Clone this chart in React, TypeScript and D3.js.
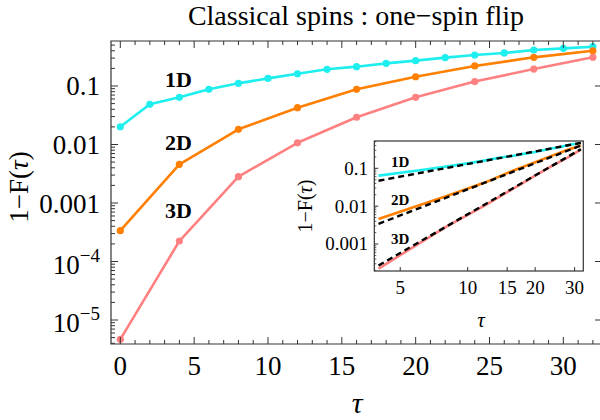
import React from 'react';
import * as d3 from 'd3';

// ---------- data ----------
const tau1D = [0, 2, 4, 6, 8, 10, 12, 14, 16, 18, 20, 22, 24, 26, 28, 30, 32];
const val1D = [0.0201, 0.0487, 0.064, 0.0877, 0.111, 0.135, 0.162, 0.193, 0.214, 0.244, 0.271, 0.305, 0.339, 0.367, 0.412, 0.44, 0.47];
const tau2D = [0, 4, 8, 12, 16, 20, 24, 28, 32];
const val2D = [3.36e-4, 0.00458, 0.0182, 0.0426, 0.0877, 0.144, 0.22, 0.309, 0.40];
const tau3D = [0, 4, 8, 12, 16, 20, 24, 28, 32];
const val3D = [4.68e-6, 2.24e-4, 0.00282, 0.0107, 0.0292, 0.064, 0.119, 0.195, 0.31];

const fitTau = [4, 32];
const fit1D = [0.047, 0.47];
const fit2D = [0.0034, 0.40];
const fit3D = [0.00027, 0.32];

const seriesNames = ['1D', '2D', '3D'];
const seriesColors = ['#1EEEEE', '#FF8000', '#FF8080'];

const xTicksMain = [0, 5, 10, 15, 20, 25, 30];
const yTicksMain = [1e-5, 1e-4, 1e-3, 1e-2, 1e-1];
const yTickLabelsMain = [['10', '−5'], ['10', '−4'], ['0.001', ''], ['0.01', ''], ['0.1', '']];
const insetXTicks = [5, 10, 15, 20, 30];
const insetYTicks = [1e-3, 1e-2, 1e-1];
const insetYTickLabels = ['0.001', '0.01', '0.1'];

const title = 'Classical spins : one−spin flip';

const FONT = "'Liberation Serif', 'Times New Roman', serif";
const FRAME = '#333';

export default function App() {
  // main scales
  const x = d3.scaleLinear().domain([-0.63, 32.55]).range([111, 601]);
  const y = d3.scaleLog().domain([3.89e-6, 0.5877]).range([344, 41]);
  const [L, R] = x.range();
  const [B, T] = y.range();

  // inset scales
  const ix = d3.scaleLog().domain([3.83, 32.8]).range([374.3, 583.3]);
  const iy = d3.scaleLog().domain([1.93e-4, 0.527]).range([271, 141]);
  const [iL, iR] = ix.range();
  const [iB, iT] = iy.range();

  const series = [
    { tau: tau1D, val: val1D, fit: fit1D },
    { tau: tau2D, val: val2D, fit: fit2D },
    { tau: tau3D, val: val3D, fit: fit3D },
  ];

  const mainLine = d3.line<[number, number]>().x(d => x(d[0])).y(d => y(d[1]));
  const insetLine = d3.line<[number, number]>().x(d => ix(d[0])).y(d => iy(d[1]));

  // minor ticks
  const yMinor: number[] = [];
  for (let e = -6; e <= 0; e++) for (let m = 2; m <= 9; m++) {
    const v = m * Math.pow(10, e);
    if (v >= y.domain()[0] && v <= y.domain()[1]) yMinor.push(v);
  }
  const xMinor = d3.range(0, 33, 1).filter(v => v % 5 !== 0);
  const iyMinor: number[] = [];
  for (let e = -4; e <= 0; e++) for (let m = 2; m <= 9; m++) {
    const v = m * Math.pow(10, e);
    if (v >= iy.domain()[0] && v <= iy.domain()[1]) iyMinor.push(v);
  }

  const mainLabelPos = [
    { x: 165, y: 87 },
    { x: 165, y: 150 },
    { x: 165, y: 218 },
  ];
  const insetLabelPos = [
    { x: 391, y: 167 },
    { x: 391, y: 205 },
    { x: 391, y: 244 },
  ];

  return (
    <svg width={600} height={420} style={{ position: 'absolute', left: 0, top: 0, background: '#fff' }} fontFamily={FONT}>
      <rect x={0} y={0} width={600} height={420} fill="#fff" />
      {/* title */}
      <text x={356} y={25} fontSize={28} textAnchor="middle" fill="#000">{title}</text>

      {/* main series */}
      <g>
        {series.map((s, i) => (
          <g key={i}>
            <path d={mainLine(s.tau.map((t, j) => [t, s.val[j]] as [number, number])) || ''} fill="none" stroke={seriesColors[i]} strokeWidth={2.6} strokeLinejoin="round" />
            {s.tau.map((t, j) => (
              <circle key={j} cx={x(t)} cy={y(s.val[j])} r={3.6} fill={seriesColors[i]} />
            ))}
          </g>
        ))}
      </g>

      {/* main frame */}
      <path d={`M${R},${T}H${L}V${B}H${R}`} fill="none" stroke={FRAME} strokeWidth={1.2} />
      {/* bottom & top ticks */}
      {xTicksMain.map(t => (
        <g key={'xt' + t}>
          <line x1={x(t)} x2={x(t)} y1={B} y2={B - 7} stroke={FRAME} strokeWidth={1} />
          <line x1={x(t)} x2={x(t)} y1={T} y2={T + 7} stroke={FRAME} strokeWidth={1} />
          <text x={x(t)} y={375} fontSize={27} textAnchor="middle">{t}</text>
        </g>
      ))}
      {xMinor.map(t => (
        <g key={'xm' + t}>
          <line x1={x(t)} x2={x(t)} y1={B} y2={B - 4} stroke={FRAME} strokeWidth={1} />
          <line x1={x(t)} x2={x(t)} y1={T} y2={T + 4} stroke={FRAME} strokeWidth={1} />
        </g>
      ))}
      {/* left & right ticks */}
      {yTicksMain.map((v, i) => (
        <g key={'yt' + i}>
          <line x1={L} x2={L + 7} y1={y(v)} y2={y(v)} stroke={FRAME} strokeWidth={1} />
          <line x1={R} x2={R - 6} y1={y(v)} y2={y(v)} stroke={FRAME} strokeWidth={1} />
          {yTickLabelsMain[i][1] ? (
            <text x={100} y={y(v) + 12} fontSize={27} textAnchor="end">
              {yTickLabelsMain[i][0]}
              <tspan fontSize={19} dy={-12}>{yTickLabelsMain[i][1]}</tspan>
            </text>
          ) : (
            <text x={100} y={y(v) + 9.5} fontSize={27} textAnchor="end">{yTickLabelsMain[i][0]}</text>
          )}
        </g>
      ))}
      {yMinor.map((v, i) => (
        <line key={'ym' + i} x1={L} x2={L + 4} y1={y(v)} y2={y(v)} stroke={FRAME} strokeWidth={1} />
      ))}

      {/* main labels */}
      {seriesNames.map((n, i) => (
        <text key={n} x={mainLabelPos[i].x} y={mainLabelPos[i].y} fontSize={22} fontWeight="bold">{n}</text>
      ))}

      {/* axis titles */}
      <text transform="translate(28,187) rotate(-90)" fontSize={27} textAnchor="middle">
        1−F(<tspan fontStyle="italic">τ</tspan>)
      </text>
      <text x={357} y={413} fontSize={30} fontStyle="italic" textAnchor="middle">τ</text>

      {/* inset */}
      <g>
        <rect x={iL} y={iT} width={iR - iL} height={iB - iT} fill="#fff" />
        {series.map((s, i) => {
          const pts = s.tau.map((t, j) => [t, s.val[j]] as [number, number]).filter(p => p[0] >= 4);
          return (
            <path key={'is' + i} d={insetLine(pts) || ''} fill="none" stroke={seriesColors[i]} strokeWidth={2.6} />
          );
        })}
        {series.map((s, i) => (
          <path key={'if' + i} d={insetLine(fitTau.map((t, j) => [t, s.fit[j]] as [number, number])) || ''} fill="none" stroke="#000" strokeWidth={2.4} strokeDasharray="6,4" />
        ))}
        <rect x={iL} y={iT} width={iR - iL} height={iB - iT} fill="none" stroke={FRAME} strokeWidth={1.2} />
        {insetXTicks.map(t => (
          <g key={'ixt' + t}>
            <line x1={ix(t)} x2={ix(t)} y1={iB} y2={iB - 4} stroke={FRAME} strokeWidth={1} />
            <text x={ix(t)} y={294} fontSize={19} textAnchor="middle">{t}</text>
          </g>
        ))}
        {insetYTicks.map((v, i) => (
          <g key={'iyt' + i}>
            <line x1={iL} x2={iL + 4} y1={iy(v)} y2={iy(v)} stroke={FRAME} strokeWidth={1} />
            <text x={368} y={iy(v) + 6.5} fontSize={19} textAnchor="end">{insetYTickLabels[i]}</text>
          </g>
        ))}
        {iyMinor.map((v, i) => (
          <line key={'iym' + i} x1={iL} x2={iL + 2} y1={iy(v)} y2={iy(v)} stroke={FRAME} strokeWidth={0.8} />
        ))}
        {seriesNames.map((n, i) => (
          <text key={'il' + n} x={insetLabelPos[i].x} y={insetLabelPos[i].y} fontSize={15} fontWeight="bold">{n}</text>
        ))}
        <text transform="translate(312,206) rotate(-90)" fontSize={20} textAnchor="middle">
          1−F(<tspan fontStyle="italic">τ</tspan>)
        </text>
        <text x={481} y={327} fontSize={21} fontStyle="italic" textAnchor="middle">τ</text>
      </g>
    </svg>
  );
}
